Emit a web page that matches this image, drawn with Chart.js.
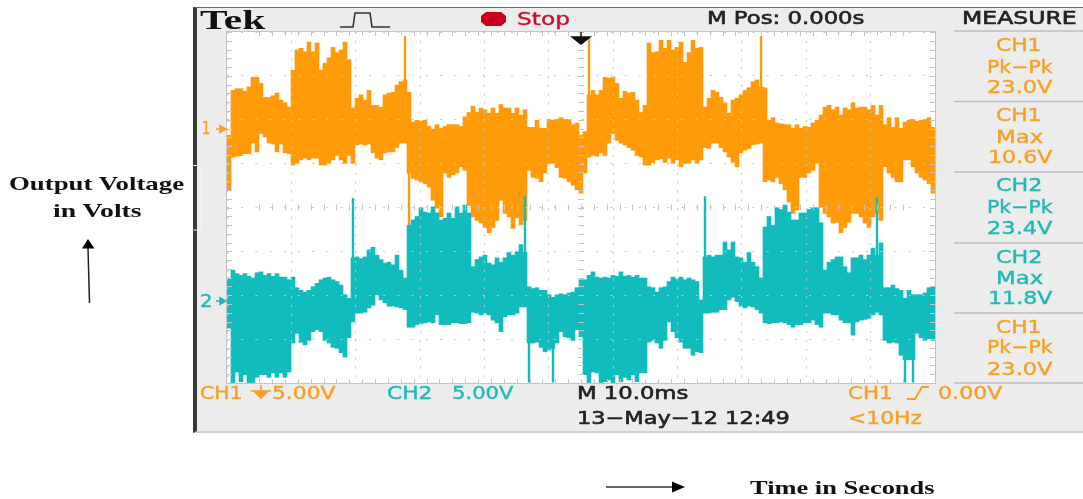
<!DOCTYPE html>
<html>
<head>
<meta charset="utf-8">
<script src="https://cdn.jsdelivr.net/npm/chart.js@4"></script>
<style>
body { margin: 0; background: #fff; width: 1083px; height: 499px; overflow: hidden; position: relative; }
#scope { position: absolute; left: 193px; top: 7px; width: 890px; height: 426px; background: #ececec; box-sizing: border-box; border-left: 4px solid #3a3a3a; border-top: 1px solid #666; border-bottom: 2px solid #cfcfcf; }
#screen { position: absolute; left: 227px; top: 32px; width: 708px; height: 351px; background: #fff; box-shadow: 0 0 0 1px #c4c4c4; }
canvas { position: absolute; left: 0; top: 0; }
svg { position: absolute; left: 0; top: 0; }
.t { position: absolute; white-space: pre; font: 18px "DejaVu Sans", sans-serif; line-height: 20px; transform-origin: 0 50%; -webkit-text-stroke: 0.4px currentColor; filter: blur(0.35px); }
.o { color: #f5a122; }
.c { color: #1dbab6; }
.k { color: #222; -webkit-text-stroke: 0.6px currentColor; }
.s { font-family: "Liberation Serif", serif; font-weight: bold; color: #111; -webkit-text-stroke: 0; filter: none; }
</style>
</head>
<body>
<div id="scope"></div>
<div id="screen"></div>
<canvas id="grafico" width="1083" height="499"></canvas>

<svg width="1083" height="499">
  <g stroke="#bdbdbd" stroke-width="1.5">
    <line x1="954" y1="31" x2="1083" y2="31"/>
    <line x1="954" y1="101.5" x2="1083" y2="101.5"/>
    <line x1="954" y1="172" x2="1083" y2="172"/>
    <line x1="954" y1="243" x2="1083" y2="243"/>
    <line x1="954" y1="313" x2="1083" y2="313"/>
    <line x1="954" y1="383" x2="1083" y2="383"/>
  </g>
  <path d="M193.5 165.5H201V230H193.5" fill="none" stroke="#f4f4f4"/>
  <path d="M340 27H353L355 13H370L372 27H390" fill="none" stroke="#333" stroke-width="1.6"/>
  <path d="M486 12H501L506 16V22L501 26H486L481 22V16Z" fill="#c8001a"/>
  <path d="M581 32V38M572 37H590L581 44Z" fill="#111" stroke="#111" stroke-width="1.4"/>
  <path d="M216 129H221M220 125.5L226 129L220 132.5Z" fill="#f5a122" stroke="#f5a122" stroke-width="1.4"/>
  <path d="M216 301H221M220 297.5L226 301L220 304.5Z" fill="#1dbab6" stroke="#1dbab6" stroke-width="1.4"/>
  <path d="M251 391H271M261 385V393M255 392H267L261 398Z" fill="#f5a122" stroke="#f5a122" stroke-width="1.6"/>
  <path d="M907 399H915L922 387H929" fill="none" stroke="#f5a122" stroke-width="2"/>
  <path d="M89.5 303L88 248" stroke="#222" stroke-width="1.5"/>
  <path d="M88 239L94.5 248.5H82Z" fill="#000"/>
  <path d="M606 487H674" stroke="#333" stroke-width="1.6"/>
  <path d="M685 487L672 481.5V492.5Z" fill="#000"/>
</svg>

<span class="t s" data-x="200" data-y="20" data-w="65" style="font-size:28px">Tek</span>
<span class="t" data-x="517" data-y="19" data-w="53" style="color:#c8102e">Stop</span>
<span class="t k" data-x="707" data-y="18" data-w="158">M Pos: 0.000s</span>
<span class="t k" data-x="962" data-y="18" data-w="115">MEASURE</span>

<span class="t o" data-x="996" data-y="45" data-w="46">CH1</span>
<span class="t o" data-x="987" data-y="67" data-w="66">Pk−Pk</span>
<span class="t o" data-x="987" data-y="87" data-w="65">23.0V</span>
<span class="t o" data-x="996" data-y="115" data-w="46">CH1</span>
<span class="t o" data-x="996" data-y="137" data-w="47">Max</span>
<span class="t o" data-x="988" data-y="157" data-w="64">10.6V</span>
<span class="t c" data-x="996" data-y="185" data-w="47">CH2</span>
<span class="t c" data-x="987" data-y="207" data-w="66">Pk−Pk</span>
<span class="t c" data-x="987" data-y="228" data-w="65">23.4V</span>
<span class="t c" data-x="996" data-y="257" data-w="47">CH2</span>
<span class="t c" data-x="996" data-y="278" data-w="47">Max</span>
<span class="t c" data-x="988" data-y="298" data-w="64">11.8V</span>
<span class="t o" data-x="996" data-y="327" data-w="46">CH1</span>
<span class="t o" data-x="987" data-y="347" data-w="66">Pk−Pk</span>
<span class="t o" data-x="987" data-y="369" data-w="65">23.0V</span>

<span class="t o" data-x="202" data-y="128" data-w="8">1</span>
<span class="t c" data-x="200" data-y="301" data-w="12">2</span>

<span class="t o" data-x="200" data-y="393" data-w="43">CH1</span>
<span class="t o" data-x="272" data-y="393" data-w="63">5.00V</span>
<span class="t c" data-x="387" data-y="393" data-w="46">CH2</span>
<span class="t c" data-x="452" data-y="393" data-w="61">5.00V</span>
<span class="t k" data-x="577" data-y="393" data-w="111">M 10.0ms</span>
<span class="t k" data-x="577" data-y="418" data-w="213">13−May−12 12:49</span>
<span class="t o" data-x="848" data-y="393" data-w="45">CH1</span>
<span class="t o" data-x="938" data-y="393" data-w="64">0.00V</span>
<span class="t o" data-x="848" data-y="418" data-w="74">&lt;10Hz</span>

<span class="t s" data-x="9" data-y="184" data-w="175" style="font-size:19px">Output Voltage</span>
<span class="t s" data-x="53" data-y="211" data-w="89" style="font-size:19px">in Volts</span>
<span class="t s" data-x="750" data-y="488" data-w="185" style="font-size:19px">Time in Seconds</span>

<script>
// CH1 envelope, volts above its own ground marker
const ch1Max = [
    -0.7,4.4,4.6,4.6,4.3,4.8,5.9,5.9,5.2,3.6,
    3.6,3.8,4.1,3.3,3.0,2.5,6.7,9.0,9.2,8.8,
    9.9,8.8,9.8,6.7,7.5,8.1,9.3,8.7,9.0,9.9,
    7.9,2.4,3.5,3.9,3.3,4.4,2.7,2.7,2.5,3.9,
    4.1,4.2,5.0,5.4,5.6,4.2,0.8,1.0,0.9,1.0,
    0.3,0,0.5,0.1,0.3,0.5,0.5,0.5,0.3,1.4,
    1.9,2.6,1.9,2.4,2.2,1.8,2.4,1.8,2.8,2.4,
    2.4,1.8,2.4,1.6,2.2,0.2,0.2,1.0,0.1,0.1,
    1.1,1.0,1.1,1.3,1.1,1.1,0.5,0.7,-0.7,
    -0.3,3.9,4.4,3.9,4.4,5.9,5.8,5.9,5.2,3.5,
    4.3,4.1,4.2,3.3,1.9,2.7,9.8,8.7,8.8,10.1,
    9.2,10.1,9.0,9.3,9.9,7.6,8.7,10.1,9.2,9.3,
    2.5,3.5,4.4,4.2,3.6,3.0,1.8,3.3,3.5,3.9,
    4.4,4.7,5.4,5.6,4.8,4.7,1.0,1.3,0.7,0.6,
    0.5,0.5,0.1,0.5,0.1,0.3,0.2,0.7,1.0,1.6,
    2.5,2.7,2.2,2.5,1.6,2.4,2.2,3.0,2.4,2.5,
    2.5,2.2,2.7,1.6,2.7,0.5,1.3,0.2,1.3,0.1,
    0.8,1.0,1.1,0.9,1.0,1.1,1.3,0.2
];
const ch1Min = [
    -6.9,-3.2,-3.1,-3.0,-2.8,-2.8,-1.6,-2.6,-0.5,-0.9,
    -1.6,-1.7,-2.6,-1.7,-2.7,-2.8,-4.1,-3.9,-3.5,-3.3,
    -3.5,-3.3,-3.3,-4.1,-4.1,-3.9,-3.5,-3.0,-3.5,-3.9,
    -3.0,-3.9,-1.8,-1.7,-1.8,-1.7,-2.7,-3.3,-3.5,-2.7,
    -2.6,-2.6,-2.1,-1.6,-1.6,-5.0,-5.6,-5.8,-6.0,-6.2,
    -6.6,-8.1,-9.0,-10.0,-5.0,-5.5,-5.2,-5.0,-4.3,-4.7,
    -8.7,-10.0,-10.4,-10.7,-11.2,-11.8,-11.2,-10.4,-8.1,-9.6,
    -10.0,-11.3,-10.1,-10.9,-10.4,-4.7,-5.5,-5.6,-6.0,-5.0,
    -3.9,-3.9,-4.4,-5.5,-5.6,-6.0,-6.4,-6.9,-7.3,
    -5.0,-3.2,-3.0,-3.1,-2.7,-3.0,-1.6,-0.5,-1.3,-1.6,
    -1.8,-2.1,-2.4,-3.0,-3.2,-4.1,-4.1,-3.8,-3.5,-3.4,
    -3.8,-3.3,-3.9,-3.5,-4.3,-3.9,-3.9,-3.5,-3.9,-3.5,
    -2.1,-2.2,-1.6,-1.6,-2.1,-2.6,-3.2,-3.8,-4.3,-2.7,
    -2.4,-2.2,-1.8,-1.7,-1.6,-6.0,-5.8,-6.0,-5.5,-6.2,
    -6.9,-8.3,-9.6,-9.2,-5.5,-5.5,-5.0,-4.7,-3.9,-8.9,
    -9.6,-10.0,-10.7,-10.6,-11.8,-11.2,-10.6,-9.6,-9.6,-10.0,
    -10.7,-11.2,-10.0,-9.6,-10.4,-4.3,-5.0,-5.5,-6.0,-6.0,
    -3.5,-3.5,-4.3,-5.0,-5.5,-5.8,-6.2,-7.3
];
// CH2 envelope, volts above its own ground marker
const ch2Max = [
    2.5,3.4,3.0,2.8,3.0,2.7,2.5,3.1,3.2,2.8,
    3.0,2.7,3.0,2.6,2.6,2.3,2.6,1.4,1.1,0.9,
    1.1,1.5,1.9,2.3,2.5,2.6,2.3,2.1,1.7,0.6,
    0.2,4.8,4.9,4.7,4.9,5.7,6.0,5.1,4.6,4.2,
    4.3,4.0,5.1,3.4,2.5,8.5,9.1,9.5,10.5,10.0,
    9.9,10.6,9.9,9.1,9.3,9.9,9.3,10.6,9.9,10.8,
    9.9,3.8,4.6,4.9,5.1,4.2,4.0,4.8,4.3,4.8,
    5.4,5.1,5.5,6.3,5.4,1.5,1.3,1.4,1.1,1.1,
    0.6,0.3,0.6,0.7,0.6,0.8,0.9,1.4,2.3,
    2.3,2.8,3.2,2.6,2.5,2.6,2.5,2.8,2.7,3.2,
    2.7,2.8,2.6,2.8,2.5,2.5,1.5,1.4,0.9,1.4,
    1.5,2.1,2.6,2.4,2.6,2.3,2.5,2.3,2.1,0,
    4.9,5.1,4.9,5.1,5.1,6.6,5.7,6.6,4.9,4.8,
    4.3,5.4,4.3,3.8,2.5,8.3,9.5,8.5,10.5,10.3,
    10.8,10.0,9.1,9.1,9.9,9.9,10.3,10.5,10.5,8.8,
    3.4,4.3,4.6,4.9,4.9,3.8,3.1,4.8,4.8,5.1,
    4.6,5.1,5.9,5.1,6.5,1.4,1.4,1.7,1.3,1.1,
    0.2,1.1,0.6,0.6,0.6,0.8,1.4,1.5
];
const ch2Min = [
    -3.2,-9.4,-8.2,-9.3,-8.5,-9.4,-9.4,-8.8,-8.5,-8.5,
    -8.8,-8.3,-8.8,-8.3,-8.8,-8.2,-4.9,-3.8,-4.8,-5.1,
    -4.6,-3.6,-3.4,-3.6,-4.6,-4.9,-5.4,-5.5,-6.0,-6.5,
    -4.3,-2.5,-1.5,-1.5,-1.4,-0.9,-0.6,0.6,0,-0.3,
    -0.7,-0.7,-0.8,-0.9,-1.1,-3.1,-3.1,-2.8,-2.7,-2.6,
    -2.5,-2.6,-1.7,-2.8,-2.8,-2.8,-2.6,-2.6,-2.7,-2.7,
    -2.6,-1.4,-1.5,-1.7,-1.5,-1.7,-2.3,-2.6,-3.6,-1.9,
    -1.7,-1.7,-1.5,-0.8,-0.8,-4.9,-4.9,-4.8,-5.4,-5.9,
    -5.7,-5.5,-4.9,-3.6,-4.2,-4.3,-4.6,-3.4,-4.2,
    -8.5,-9.4,-8.2,-8.3,-9.4,-9.3,-9.1,-9.4,-8.5,-9.3,
    -8.8,-9.1,-8.5,-9.3,-8.3,-8.3,-4.8,-4.6,-4.9,-5.5,
    -4.6,-2.5,-3.6,-4.3,-4.8,-5.5,-5.5,-6.3,-5.9,-6.0,
    -1.5,-1.5,-1.4,-1.4,-1.1,-1.1,0,0.3,-0.2,-0.7,
    -0.9,-0.7,-0.8,-1.1,-1.5,-2.6,-2.7,-2.6,-2.6,-2.5,
    -2.6,-2.8,-3.1,-2.8,-2.8,-2.6,-2.6,-2.3,-2.8,-3.1,
    -1.5,-1.5,-1.7,-1.7,-2.3,-2.6,-2.6,-4.0,-2.5,-2.3,
    -2.2,-2.1,-1.7,-1.4,-1.7,-4.6,-4.9,-4.8,-4.9,-6.3,
    -6.8,-6.8,-6.8,-3.8,-4.3,-4.6,-4.4,-4.6
];
// narrow glitches that stand out from the envelope: sample number, high, low
const ch1SpikeAt = [44, 45, 90, 133];
const ch1SpikeHigh = [10.6, -3.0, 10.4, 10.6];
const ch1SpikeLow = [3.0, -11.2, 3.0, 3.0];
const ch2SpikeAt = [31, 74, 75, 81, 119, 162, 169, 171];
const ch2SpikeHigh = [11.6, 11.8, 0, -4.0, 11.8, 11.7, -2.0, -4.0];
const ch2SpikeLow = [0, 0, -9.4, -9.4, 0, 0, -9.4, -9.4];

const amostras = ch1Max.map((v, i) => i);

function faixa(maximos, minimos) {
    return maximos.map((v, i) => [minimos[i], v]);
}

function picos(posicoes, altos, baixos) {
    const lista = amostras.map(() => null);
    posicoes.forEach((p, i) => { lista[p] = [baixos[i], altos[i]]; });
    return lista;
}

const laranja = '#ff9b0a';
const ciano = '#12bcbc';

function serie(label, data, cor, eixo, largura, ordem) {
    return {
        label: label,
        data: data,
        backgroundColor: cor,
        yAxisID: eixo,
        xAxisID: 'x',
        grouped: false,
        categoryPercentage: 1,
        barPercentage: largura,
        order: ordem
    };
}

// graticule tick marks on the screen edges and on the centre cross
const marcas = {
    id: 'marcas',
    afterDraw(chart) {
        const c = chart.ctx, a = chart.chartArea;
        const gx = chart.scales.tempo, gy = chart.scales.divisoes;
        c.save();
        c.strokeStyle = '#c4c4c4';
        c.lineWidth = 1;
        c.beginPath();
        for (let v = -20; v <= 20; v++) {
            const y = Math.round(gy.getPixelForValue(v)) + 0.5;
            c.moveTo(a.left, y); c.lineTo(a.left + 5, y);
            c.moveTo(a.right - 5, y); c.lineTo(a.right, y);
            c.moveTo(gx.getPixelForValue(0) - 3, y); c.lineTo(gx.getPixelForValue(0) + 3, y);
        }
        for (let t = -50; t <= 50; t += 2) {
            const x = Math.round(gx.getPixelForValue(t)) + 0.5;
            c.moveTo(x, a.top); c.lineTo(x, a.top + 4);
            c.moveTo(x, a.bottom - 4); c.lineTo(x, a.bottom);
            c.moveTo(x, gy.getPixelForValue(0) - 3); c.lineTo(x, gy.getPixelForValue(0) + 3);
        }
        c.stroke();
        c.restore();
    }
};

const config = {
    type: 'bar',
    data: {
        labels: amostras,
        datasets: [
            serie('CH2 spikes', picos(ch2SpikeAt, ch2SpikeHigh, ch2SpikeLow), ciano, 'ch2', 0.6, 1),
            serie('CH2', faixa(ch2Max, ch2Min), ciano, 'ch2', 1, 2),
            serie('CH1 spikes', picos(ch1SpikeAt, ch1SpikeHigh, ch1SpikeLow), laranja, 'ch1', 0.6, 3),
            serie('CH1', faixa(ch1Max, ch1Min), laranja, 'ch1', 1, 4)
        ]
    },
    options: {
        responsive: false,
        animation: false,
        events: [],
        layout: { padding: { left: 227, right: 148, top: 32, bottom: 116 } },
        plugins: { legend: { display: false }, tooltip: { enabled: false }, title: { display: false } },
        scales: {
            x: { display: false, offset: true },
            // 5 V/div on both channels, 8 divisions high, each with its own ground position
            ch1: { display: false, min: -28.9, max: 11.05 },
            ch2: { display: false, min: -9.45, max: 30.5 },
            divisoes: {
                type: 'linear', position: 'left', min: -20, max: 20,
                ticks: { display: false, stepSize: 5 },
                border: { display: false, dash: [2, 12.2] },
                grid: { color: '#c6c6c6', drawTicks: false, z: 1 }
            },
            tempo: {
                type: 'linear', position: 'bottom', min: -50, max: 50,
                ticks: { display: false, stepSize: 10 },
                border: { display: false, dash: [2, 6.8] },
                grid: { color: '#c6c6c6', drawTicks: false, z: 1 }
            }
        }
    },
    plugins: [marcas]
};

const grafico = new Chart(document.getElementById('grafico'), config);

// scope lettering is stretched, fit each label to its width on screen
document.querySelectorAll('.t').forEach((el) => {
    el.style.left = el.dataset.x + 'px';
    el.style.top = (el.dataset.y - el.offsetHeight / 2) + 'px';
    el.style.transform = 'scaleX(' + (el.dataset.w / el.offsetWidth) + ')';
});
</script>
</body>
</html>
